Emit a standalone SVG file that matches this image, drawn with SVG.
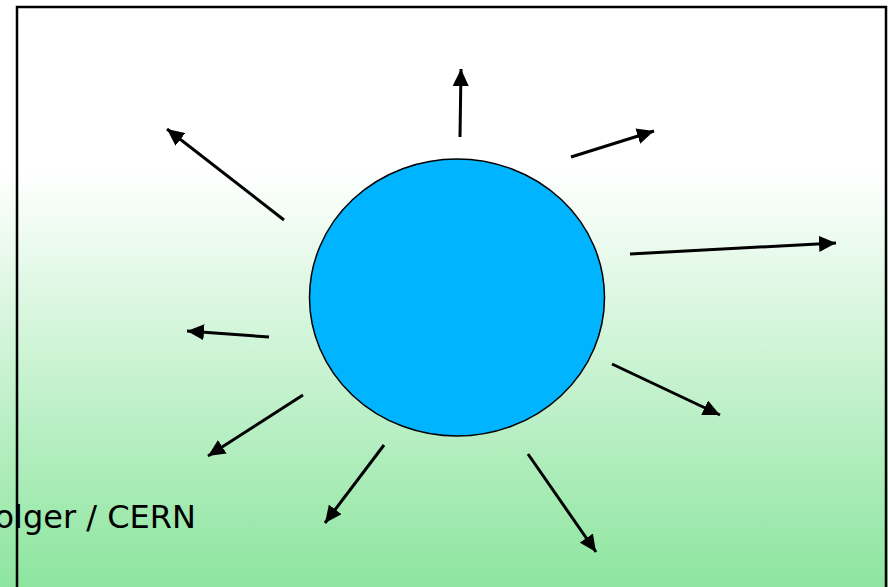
<svg xmlns="http://www.w3.org/2000/svg" width="888" height="587" viewBox="0 0 888 587">
  <defs>
    <linearGradient id="bg" x1="0" y1="0" x2="0" y2="587" gradientUnits="userSpaceOnUse">
      <stop offset="0" stop-color="#ffffff"/>
      <stop offset="0.29" stop-color="#ffffff"/>
      <stop offset="1" stop-color="#8de59f"/>
    </linearGradient>
    <marker id="ah" markerUnits="userSpaceOnUse" markerWidth="18" markerHeight="16" refX="17" refY="8" orient="auto">
      <path d="M0,0 L17,8 L0,16 Z" fill="#000"/>
    </marker>
  </defs>
  <style>
    .arrow { stroke: #000; stroke-width: 3; fill: none; marker-end: url(#ah); }
    .lbl { font-family: "DejaVu Sans", Verdana, sans-serif; font-size: 32px; fill: #000; }
  </style>
  <rect x="0" y="0" width="888" height="587" fill="url(#bg)"/>
  <rect x="17" y="7" width="869" height="600" fill="none" stroke="#000" stroke-width="2.5"/>
  <g id="sun">
    <ellipse cx="457" cy="297.5" rx="147.5" ry="138.5" fill="#00b4ff" stroke="#000" stroke-width="1.5"/>
  </g>
  <g id="connectors">
    <line class="arrow" x1="460" y1="137" x2="461" y2="69"/>
    <line class="arrow" x1="571" y1="157" x2="654" y2="131"/>
    <line class="arrow" x1="284" y1="220" x2="167" y2="129"/>
    <line class="arrow" x1="630" y1="254" x2="836" y2="243"/>
    <line class="arrow" x1="269" y1="337" x2="187" y2="331"/>
    <line class="arrow" x1="612" y1="364" x2="720" y2="415"/>
    <line class="arrow" x1="303" y1="395" x2="208" y2="456"/>
    <line class="arrow" x1="384" y1="445" x2="325" y2="523"/>
    <line class="arrow" x1="528" y1="454" x2="596" y2="552"/>
  </g>
  <g id="label">
    <text class="lbl" x="196" y="528" text-anchor="end">olger / CERN</text>
  </g>
</svg>
